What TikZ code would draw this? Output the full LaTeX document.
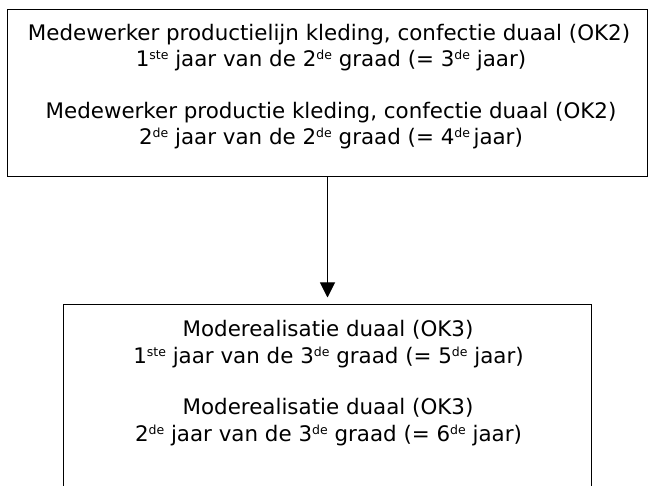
\documentclass[tikz,border=0pt]{standalone}
\usepackage{fontspec}
\setmainfont{DejaVu Sans}
\usetikzlibrary{arrows.meta}
\newcommand\supx[1]{\raisebox{7pt}{\fontsize{12.5}{12.5}\selectfont #1}}
\tikzset{
  boxframe/.style={draw=black, line width=1pt, inner sep=0pt},
  lbl/.style={inner sep=0pt, anchor=base, font=\fontsize{21.4}{26}\selectfont},
  conn/.style={draw=black, line width=1pt, -{Triangle[width=15pt,length=15pt]}, shorten >=7pt}
}
\begin{document}
\begin{tikzpicture}[x=1pt, y=-1pt]
\useasboundingbox (0,0) rectangle (649,486);
\clip (0,0) rectangle (649,486);
\fill[white] (0,0) rectangle (649,486);
% boxes
\node[boxframe, minimum width=640pt, minimum height=167.5pt, anchor=north west] (top) at (7,9) {};
\node[boxframe, minimum width=528pt, minimum height=230pt, anchor=north west] (bot) at (63,304.5) {};
% top box texts
\node[lbl] (t1) at (329,40.7) {Medewerker productielijn kleding, confectie duaal (OK2)};
\node[lbl] (t2) at (331,66.7) {1\supx{ste} jaar van de 2\supx{de} graad (= 3\supx{de} jaar)};
\node[lbl] (t3) at (331,118.3) {Medewerker productie kleding, confectie duaal (OK2)};
\node[lbl] (t4) at (331,144.5) {2\supx{de} jaar van de 2\supx{de} graad (= 4\supx{de}\,jaar)};
% bottom box texts
\node[lbl] (b1) at (328,336.7) {Moderealisatie duaal (OK3)};
\node[lbl] (b2) at (328.5,364) {1\supx{ste} jaar van de 3\supx{de} graad (= 5\supx{de} jaar)};
\node[lbl] (b3) at (328,415) {Moderealisatie duaal (OK3)};
\node[lbl] (b4) at (328.5,441.7) {2\supx{de} jaar van de 3\supx{de} graad (= 6\supx{de} jaar)};
% connector
\draw[conn] (top.south) -- (top.south |- bot.north);
\end{tikzpicture}
\end{document}
